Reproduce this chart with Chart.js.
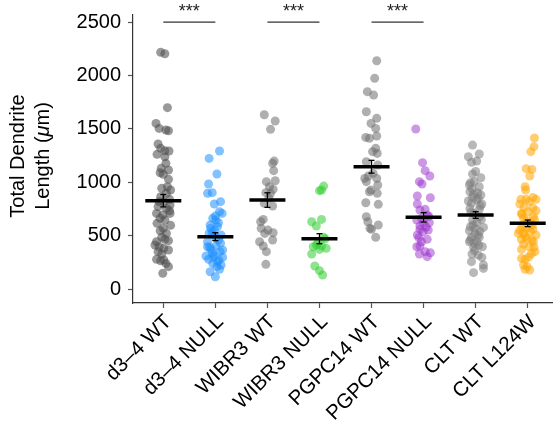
<!DOCTYPE html>
<html><head><meta charset="utf-8">
<script src="https://cdn.jsdelivr.net/npm/chart.js@4.4.1/dist/chart.umd.min.js"></script>
<style>html,body{margin:0;padding:0;background:#fff}#wrap{width:553px;height:436px}</style>
</head><body><div id="wrap"><canvas id="c" width="553" height="436"></canvas></div>
<script>
const categories = ['d3\u20134 WT','d3\u20134 NULL','WIBR3 WT','WIBR3 NULL','PGPC14 WT','PGPC14 NULL','CLT WT','CLT L124W'];
const yTicks = [0,500,1000,1500,2000,2500];

const d34WT = [2216,2203,1698,1551,1504,1489,1482,1358,1317,1292,1261,1295,1177,1130,1114,1089,1074,1027,943,927,896,865,840,818,786,771,755,708,693,733,662,646,615,596,568,546,521,484,465,443,453,412,396,381,365,350,328,278,265,272,209,240,147,708,818,958,1239];
const d34WTJitter = [-0.05,0.03,0.08,-0.14,-0.08,0.05,0.10,-0.10,-0.05,0.11,-0.12,0.03,0.05,-0.04,0.10,-0.06,0,0.10,-0.03,0.14,0.06,-0.05,0.12,0.01,0.13,-0.10,0.06,-0.13,-0.01,0.12,-0.06,0.03,-0.12,0.14,0,-0.06,0.06,-0.03,0.03,-0.13,0.10,-0.16,-0.08,0.01,0.10,-0.10,-0.03,-0.13,-0.05,0.01,0.10,0.05,-0.01,0.13,-0.08,0.08,0.03];

const d34NULL = [1292,1223,1077,983,902,896,818,796,724,708,662,646,599,584,552,527,506,396,403,371,350,318,296,278,256,240,225,162,184,115,521,459,309,365,209,334,443,683,620,570,480,430,300,270,390,500];
const d34NULLJitter = [0.08,-0.12,0.03,-0.13,-0.06,-0.15,0.10,-0.02,0.08,0.13,-0.05,0.01,-0.10,0.04,-0.02,-0.06,0.11,-0.15,0.01,-0.08,0.09,-0.02,0.14,-0.13,0.04,-0.05,0.11,-0.10,0.08,0,-0.12,0.06,-0.18,0.14,0.03,-0.06,-0.15,0,0.06,-0.09,0.02,0.10,-0.04,0.07,-0.11,-0.03];

const wibr3WT = [1632,1573,1495,1198,1177,1108,1005,1014,958,933,902,896,802,777,652,568,552,527,521,443,459,403,350,231,849,630];
const wibr3WTJitter = [-0.06,0.15,0.06,0.13,0.10,0.12,-0.02,0.15,0.04,0.11,-0.03,0.06,-0.06,0.10,-0.08,-0.12,0.01,0.11,-0.05,-0.15,0.10,-0.08,-0.02,-0.03,0.03,-0.13];

const wibr3NULL = [964,921,927,630,652,590,484,412,403,381,371,396,328,215,172,131,470,430];
const wibr3NULLJitter = [0.08,0,0.04,-0.15,0.04,-0.06,0.08,-0.06,0.04,0.13,0,-0.12,-0.15,-0.09,0,0.06,0.11,-0.03];

const pgpc14WT = [2138,1973,1848,1816,1660,1598,1551,1504,1420,1411,1433,1317,1270,1192,1161,1036,1036,1005,974,927,896,911,808,793,677,630,599,559,568,484,1083,1058,1286];
const pgpc14WTJitter = [0.10,0.06,-0.08,0.04,-0.10,0.10,-0.01,0.08,-0.11,-0.04,0.10,0.08,0.11,-0.10,0.12,-0.13,0.10,-0.10,0.12,-0.01,0.11,-0.04,-0.11,0.13,-0.10,-0.07,0.13,0,-0.03,0.08,0.03,-0.06,0.02];

const pgpc14NULL = [1498,1183,1108,1058,1005,983,871,855,796,740,746,693,662,646,621,559,552,537,506,465,443,396,403,350,340,328,303,590,620,580,480,680];
const pgpc14NULLJitter = [-0.15,-0.02,0.03,0.12,-0.08,-0.03,-0.12,0.13,-0.12,-0.07,0.03,0.07,-0.04,-0.13,0.11,-0.07,0.09,-0.01,-0.12,0.07,-0.04,-0.13,-0.07,0.03,0.13,-0.08,0.07,-0.07,0,0.05,-0.09,0.10];

const cltWT = [1348,1264,1239,1186,1198,1077,1042,1005,974,958,911,889,880,824,833,796,802,755,746,646,621,577,546,521,484,484,443,396,390,443,318,328,296,225,256,193,153,996,849,708,677,584,568,506,428,900,860,780,720,650,600,540,460,410,360,1100,940];
const cltWTJitter = [-0.06,0.07,-0.14,-0.08,0.02,-0.06,0.10,-0.03,-0.12,0.07,-0.11,-0.04,0.10,-0.14,0.02,0.12,-0.08,-0.11,0.07,-0.06,0.02,0.15,-0.12,-0.01,-0.08,0.07,-0.12,0.13,-0.04,0.02,0.05,-0.07,0.12,0.15,-0.08,0.15,-0.04,-0.10,0.05,-0.03,0.08,-0.10,-0.01,0.05,-0.03,0.04,-0.06,0.09,-0.09,0.11,-0.05,0.08,-0.10,0.06,-0.02,0,-0.07];

const cltL124W = [1414,1333,1286,1127,1120,1058,958,927,840,840,858,840,796,818,708,724,662,677,552,568,559,521,506,465,474,459,390,371,350,287,278,225,209,178,184,396,521,733,765,615,640,600,580,540,490,440,420,330,300,760,700,650];
const cltL124WJitter = [0.13,0.12,0.06,-0.03,0.08,0.04,-0.05,-0.04,-0.13,-0.03,0.10,0.16,-0.15,0.03,-0.12,0.01,-0.08,0.11,-0.15,-0.03,0.10,-0.08,0.16,-0.12,-0.01,0.08,0.12,-0.12,0.14,-0.12,-0.05,-0.08,-0.01,0.04,-0.05,0.03,-0.18,0.16,-0.07,0.06,-0.02,0.09,-0.10,0.05,-0.05,0.11,-0.08,0.07,0.02,0.10,-0.11,0.13];

const groupMeans = [827,490,833,471,1145,671,693,615];
const groupSEM = [58,37,68,47,60,44,31,31];
const sigPairs = [[1,2],[3,4],[5,6]];
const sigLevel = 2500;
const sigLabel = '***';

const groupValues = [d34WT,d34NULL,wibr3WT,wibr3NULL,pgpc14WT,pgpc14NULL,cltWT,cltL124W];
const groupJitter = [d34WTJitter,d34NULLJitter,wibr3WTJitter,wibr3NULLJitter,pgpc14WTJitter,pgpc14NULLJitter,cltWTJitter,cltL124WJitter];
const groupColors = ['rgba(80,80,80,0.58)','rgba(30,144,255,0.55)','rgba(110,110,110,0.55)','rgba(50,205,50,0.55)','rgba(110,110,110,0.55)','rgba(153,50,204,0.5)','rgba(125,125,125,0.55)','rgba(255,165,0,0.55)'];

const FONT = "'Liberation Sans', Arial, Helvetica, sans-serif";
const datasets = [];
groupValues.forEach((vals,i)=>{
  const jit = groupJitter[i];
  const n = Math.min(vals.length, jit.length);
  const data = [];
  for (let k=0;k<n;k++) data.push({x:i+1+jit[k], y:vals[k]});
  datasets.push({data, backgroundColor:groupColors[i], pointBackgroundColor:groupColors[i], borderWidth:0, pointBorderWidth:0, pointRadius:4.5, order:3});
});
groupMeans.forEach((m,i)=>{
  const s = groupSEM[i];
  datasets.push({data:[{x:i+1,y:m-s},{x:i+1,y:m+s}], showLine:true, borderColor:'#000', borderWidth:1.3,
    pointStyle:'line', pointRadius:3, pointBorderColor:'#000', pointBorderWidth:1.3, order:2});
});
datasets.push({data:groupMeans.map((m,i)=>({x:i+1,y:m})), pointStyle:'line', pointRadius:18,
  borderColor:'#000', pointBorderColor:'#000', pointBorderWidth:3.5, borderWidth:3.5, order:1});
sigPairs.forEach(p=>{
  datasets.push({data:[{x:p[0],y:sigLevel},{x:p[1],y:sigLevel}], showLine:true, borderColor:'#333', borderWidth:1.3, pointRadius:0, clip:false, order:1});
});

const annot = {
  id:'annot',
  afterDraw(chart){
    const ctx = chart.ctx, xs = chart.scales.x, ys = chart.scales.y;
    ctx.save();
    ctx.fillStyle = '#222';
    ctx.font = '18px ' + FONT;
    ctx.textAlign = 'center';
    ctx.textBaseline = 'alphabetic';
    sigPairs.forEach(p=>{
      const x = xs.getPixelForValue((p[0]+p[1])/2);
      const y = ys.getPixelForValue(sigLevel) - 5.5;
      ctx.fillText(sigLabel, x, y);
    });
    ctx.restore();
    // y axis title
    ctx.save();
    const ca = chart.chartArea;
    const cy = (ca.top+ca.bottom)/2 - 3;
    ctx.translate(30, cy);
    ctx.rotate(-Math.PI/2);
    ctx.fillStyle = '#000';
    ctx.textBaseline = 'middle';
    ctx.textAlign = 'left';
    const normal = '20px ' + FONT, italic = 'italic 20px ' + FONT;
    ctx.font = normal;
    const l1 = 'Total Dendrite';
    const w1 = ctx.measureText(l1).width;
    ctx.fillText(l1, -w1/2, -12);
    const a = 'Length (', b = '\u03bc', c = 'm)';
    ctx.font = normal; const wa = ctx.measureText(a).width; const wc = ctx.measureText(c).width;
    ctx.font = italic; const wb = ctx.measureText(b).width;
    let x0 = -(wa+wb+wc)/2;
    ctx.font = normal; ctx.fillText(a, x0, 13);
    ctx.font = italic; ctx.fillText(b, x0+wa, 13);
    ctx.font = normal; ctx.fillText(c, x0+wa+wb, 13);
    ctx.restore();
  }
};

new Chart(document.getElementById('c'), {
  type:'scatter',
  data:{datasets},
  options:{
    responsive:false, devicePixelRatio:1, animation:false,
    layout:{autoPadding:false, padding:{top:15,right:0,left:0,bottom:0}},
    plugins:{legend:{display:false}, tooltip:{enabled:false}},
    scales:{
      x:{type:'linear', min:0.418, max:8.486,
        afterBuildTicks:s=>{s.ticks = categories.map((c,i)=>({value:i+1}));},
        afterFit:s=>{s.height = 133; s.paddingRight = 0; s.paddingLeft = 0;},
        ticks:{autoSkip:false, maxRotation:45, minRotation:45, color:'#000', padding:2, labelOffset:5,
          font:{family:FONT, size:20.5}, callback:v=>categories[Math.round(v)-1]},
        grid:{display:true, drawOnChartArea:false, drawTicks:true, tickLength:5, tickColor:'#555', tickWidth:1.2},
        border:{display:true, color:'#333', width:1.2}},
      y:{type:'linear', min:-131, max:2566,
        afterBuildTicks:s=>{s.ticks = yTicks.map(v=>({value:v}));},
        afterFit:s=>{s.width = 133; s.paddingTop = 0; s.paddingBottom = 0;},
        ticks:{color:'#000', padding:7, font:{family:FONT, size:20}, callback:v=>String(v)},
        grid:{display:true, drawOnChartArea:false, drawTicks:true, tickLength:5, tickColor:'#555', tickWidth:1.2},
        border:{display:true, color:'#333', width:1.2}}
    }
  },
  plugins:[annot]
});
</script></body></html>
